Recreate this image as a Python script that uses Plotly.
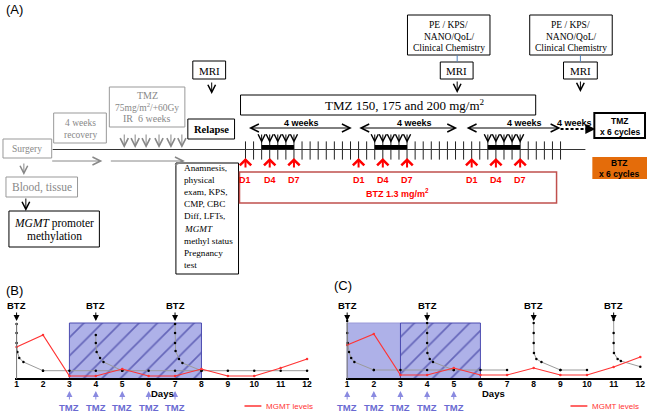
import plotly.graph_objects as go

SERIF = "Liberation Serif"
SANS = "Liberation Sans"

# ---------------- data : panels B and C ----------------
days = [1, 2, 3, 4, 5, 6, 7, 8, 9, 10, 11, 12]
mgmt_b = [32, 44, 3, 3, 10, 3, 3, 10, 3, 3, 11, 20]
mgmt_c = [34, 45, 4, 4, 11, 4, 4, 11, 4, 4, 12, 22]

btz_days_b = [1, 4, 7]
btz_days_c = [1, 4, 8, 11]
tmz_days_b = [3, 4, 5, 6, 7]
tmz_days_c = [1, 2, 3, 4, 5]

base_b_x = [2, 3, 4, 5, 6, 7, 8, 9, 10, 11, 12]
base_b_y = [8.3, 8.3, 8.3, 8.3, 8.3, 8.3, 8.3, 8.3, 8.3, 8.3, 8.3]
base_c_x = [2, 3, 4, 5, 6, 7, None, 9, 10]
base_c_y = [9, 9, 9, 9, 9, 9, None, 9, 9]

spikes_b = [
    ([1, 1, 1, 1.03, 1.1, 1.26, 2], [55, 46, 36, 27, 21, 17, 8.3]),
    ([4, 4, 4.03, 4.16, 4.29, 5], [44, 36, 27, 21, 17, 8.3]),
    ([7, 7, 7, 7.02, 7.15, 7.28, 8], [55, 46, 36, 28, 20, 16, 8.3]),
]
spikes_c = [
    ([1, 1, 1.02, 1.07, 1.15, 1.27, 2], [58, 46, 36, 27, 21, 17, 9]),
    ([4, 4, 4, 4.01, 4.1, 4.22, 5], [56, 46, 36, 26, 20, 17, 9]),
    ([8, 8, 8, 8.01, 8.1, 8.29, 9], [56, 46, 36, 26, 20, 17, 9]),
    ([11, 11, 11, 11.01, 11.15, 11.27, 12], [59, 46, 36, 26, 20, 18, 12.3]),
]
hatch_b = [3, 8]
solid_c = [1, 3]
hatch_c = [3, 6]
rect_top = 56

# ---------------- data : panel A timeline ----------------
timeline_days = list(range(40))
cycle_starts = [0, 14, 28]
btz_offsets = [0, 3, 6]
btz_labels = ["D1", "D4", "D7"]
tmz_offsets = [2, 3, 4, 5, 6]
anamnesis_lines = ["Anamnesis,", "physical", "exam, KPS,", "CMP, CBC", "Diff, LFTs,",
                   "<i>MGMT</i>", "methyl status", "Pregnancy", "test"]

fig = go.Figure()

shapes = []
annos = []


def rect(x0, y0, x1, y1, color="black", width=1, fill="rgba(0,0,0,0)", xref="x", yref="y"):
    shapes.append(dict(type="rect", x0=x0, y0=y0, x1=x1, y1=y1, xref=xref, yref=yref,
                       line=dict(color=color, width=width), fillcolor=fill))


def line(x0, y0, x1, y1, color="black", width=1, dash="solid", xref="x", yref="y"):
    shapes.append(dict(type="line", x0=x0, y0=y0, x1=x1, y1=y1, xref=xref, yref=yref,
                       line=dict(color=color, width=width, dash=dash)))


def arrow(x, y, ax, ay, color="black", width=1, head=5, size=1.5, xref="x", yref="y", side="end"):
    annos.append(dict(x=x, y=y, ax=ax, ay=ay, xref=xref, yref=yref, axref=xref, ayref=yref,
                      showarrow=True, text="", arrowhead=head, arrowsize=size, arrowwidth=width,
                      arrowcolor=color, arrowside=side, startarrowhead=head, startarrowsize=size,
                      standoff=0, startstandoff=0))


def txt(x, y, s, size, color="black", family=SERIF, xanchor="center", xref="x", yref="y"):
    annos.append(dict(x=x, y=y, text=s, xref=xref, yref=yref, showarrow=False,
                      xanchor=xanchor, yanchor="middle", align="left" if xanchor == "left" else "center",
                      font=dict(family=family, size=size, color=color)))


fig.add_trace(go.Scatter(x=[0], y=[0], mode="markers", marker=dict(opacity=0), xaxis="x", yaxis="y",
                         showlegend=False, hoverinfo="skip"))

# ================= PANEL A =================
txt(3, 9, "(A)", 13, family=SANS, xanchor="left")

rect(193, 61, 226, 79)
txt(209.5, 70.5, "MRI", 11)
arrow(212, 94, 212, 81)

rect(109, 87, 185, 127, color="#999")
txt(147, 95.5, "TMZ", 10, color="#888")
txt(147, 107, "75mg/m<sup>2</sup>/+60Gy", 9.5, color="#888")
txt(147, 118.5, "IR  6 weeks", 10, color="#888")

rect(53, 113, 106, 143, color="#999")
txt(79.5, 123, "4 weeks", 9.5, color="#888")
txt(79.5, 135, "recovery", 9.5, color="#888")

rect(188, 119, 235, 139)
txt(211.5, 129, "<b>Relapse</b>", 10.5)

rect(2, 139, 51, 158, color="#999")
txt(26.5, 149, "Surgery", 9.5, color="#888")

arrow(23, 175, 23, 162, color="#888")
rect(5, 177, 77, 197, color="#999")
txt(41, 187, "Blood, tissue", 11.5, color="#888")

arrow(25, 211, 25, 197)
rect(8, 211, 99, 247)
txt(53.5, 223, "<i>MGMT</i> promoter", 11.5)
txt(53.5, 236.5, "methylation", 11.5)

rect(176, 163, 239, 274)
for i, s in enumerate(anamnesis_lines):
    txt(182, 167.5 + i * 12.2, s, 9.2, xanchor="left")

line(52, 149.5, 588, 149.5, color="#333", width=1.2)
for gx in [124, 135, 146, 159, 171, 182]:
    arrow(gx, 148, gx, 133, color="#888", size=1.6)
arrow(102, 161, 50, 161, color="#888", size=1.6)
arrow(185, 161, 109, 161, color="#888", size=1.6)

rect(241, 95, 538, 115)
txt(406, 105, "TMZ 150, 175 and 200 mg/m<sup>2</sup>", 13)

for cx, l, r, ml, mr in [(450.5, 409, 492, 442, 475), (573.5, 532, 615, 566, 600)]:
    rect(l, 15, r, 55)
    txt(cx, 25, "PE / KPS/", 9.5)
    txt(cx, 36.5, "NANO/QoL/", 9.5)
    txt(cx, 48, "Clinical Chemistry", 9.5)
    rect(ml, 62, mr, 79)
    txt((ml + mr) / 2, 70.5, "MRI", 11)
line(459, 55, 459, 62, color="#4f81bd")
line(583, 55, 583, 62, color="#4f81bd")
arrow(459, 93, 459, 80)
arrow(583, 92, 583, 80)

for a, b, lx in [(248, 353, 302), (359, 459, 416), (467, 563, 527)]:
    arrow(b, 128, a, 128, side="end+start", size=1.6)
    txt(lx, 122.5, "<b>4 weeks</b>", 9, family=SANS)
txt(577, 122.5, "<b>4 weeks</b>", 9, family=SANS)
line(563, 129, 591, 129, width=2, dash="3px,2px")
arrow(598, 129, 590, 129, width=2, head=2, size=1)

rect(597, 113, 648, 138, width=2)
txt(622.5, 120.5, "<b>TMZ</b>", 8.5, family=SANS)
txt(622.5, 131.5, "<b>x 6 cycles</b>", 8.5, family=SANS)

rect(595, 157, 650, 179, color="#e46c0a", width=0, fill="#e46c0a")
txt(622, 163, "<b>BTZ</b>", 8.5, family=SANS)
txt(622, 174, "<b>x 6 cycles</b>", 8.5, family=SANS)

rect(240, 172, 559, 203, color="#c0504d", width=1.5)
txt(399, 193, "<b>BTZ 1.3 mg/m<sup>2</sup></b>", 9, color="#ff0000", family=SANS)

fig.add_trace(go.Scatter(x=timeline_days, y=[150.5] * len(timeline_days), mode="markers",
                         xaxis="x3", yaxis="y", cliponaxis=False, showlegend=False, hoverinfo="skip",
                         marker=dict(symbol="line-ns", size=13, color="#222",
                                     line=dict(width=1, color="#222"))))
for cs in cycle_starts:
    rect(cs + tmz_offsets[0], 145, cs + tmz_offsets[-1], 149.5, color="black", width=0,
         fill="black", xref="x3")
    for o in tmz_offsets:
        arrow(cs + o, 143, cs + o, 133, size=1.4, xref="x3")
    for o, lab in zip(btz_offsets, btz_labels):
        arrow(cs + o, 158, cs + o, 169, color="#ff0000", width=2, head=4, size=1.1, xref="x3")
        txt(cs + o, 180, "<b>%s</b>" % lab, 9, color="#ff0000", family=SANS, xref="x3")

# ================= PANELS B and C =================
txt(3, 290, "(B)", 13, family=SANS, xanchor="left")
txt(333, 285, "(C)", 13, family=SANS, xanchor="left")

FILL = "#aeb1e8"
HATCH = "#1c1c8c"
EDGE = "#4b4bb0"


def hatched(span, xa, ya):
    fig.add_trace(go.Bar(x=[(span[0] + span[1]) / 2], y=[rect_top], width=[span[1] - span[0]],
                         xaxis=xa, yaxis=ya, showlegend=False, hoverinfo="skip",
                         marker=dict(color=FILL, line=dict(color=EDGE, width=1),
                                     pattern=dict(shape="/", fgcolor=HATCH, size=13, solidity=0.13,
                                                  fillmode="overlay"))))


def solid(span, xa, ya):
    fig.add_trace(go.Bar(x=[(span[0] + span[1]) / 2], y=[rect_top], width=[span[1] - span[0]],
                         xaxis=xa, yaxis=ya, showlegend=False, hoverinfo="skip",
                         marker=dict(color=FILL, line=dict(color="#9a9ad8", width=1))))


hatched(hatch_b, "x2", "y2")
solid(solid_c, "x4", "y4")
hatched(hatch_c, "x4", "y4")

GRAY = dict(color="#9a9a9a", width=1)
DOT = dict(size=2.5, color="black")


def gray_line(xs, ys, xa, ya):
    fig.add_trace(go.Scatter(x=xs, y=ys, mode="lines+markers", line=GRAY, marker=DOT,
                             xaxis=xa, yaxis=ya, showlegend=False, hoverinfo="skip",
                             cliponaxis=False, connectgaps=False))


gray_line(base_b_x, base_b_y, "x2", "y2")
for sx, sy in spikes_b:
    gray_line(sx, sy, "x2", "y2")
gray_line(base_c_x, base_c_y, "x4", "y4")
for sx, sy in spikes_c:
    gray_line(sx, sy, "x4", "y4")

for mg, xa, ya in [(mgmt_b, "x2", "y2"), (mgmt_c, "x4", "y4")]:
    fig.add_trace(go.Scatter(x=days, y=mg, mode="lines+markers", xaxis=xa, yaxis=ya,
                             line=dict(color="#ff3333", width=1.2),
                             marker=dict(size=2.5, color="#ff3333"),
                             showlegend=False, hoverinfo="skip", cliponaxis=False))

line(1, 0, 1, rect_top, color="#777", xref="x2", yref="y2")
line(1, 0, 1, rect_top, color="#777", xref="x4", yref="y4")

TMZC = "#6a6ad2"
for btzd, tmzd, xa, ya in [(btz_days_b, tmz_days_b, "x2", "y2"), (btz_days_c, tmz_days_c, "x4", "y4")]:
    for d in btzd:
        txt(d, 74, "<b>BTZ</b>", 9.5, family=SANS, xref=xa, yref=ya)
        arrow(d, 58, d, 68, size=1.2, head=2, xref=xa, yref=ya)
    for d in tmzd:
        arrow(d, -12, d, -22, color="#8a8ae0", size=1.2, head=2, xref=xa, yref=ya)
        txt(d, -28.5, "<b>TMZ</b>", 9.5, color=TMZC, family=SANS, xref=xa, yref=ya)

txt(162, 393.5, "<b>Days</b>", 9.5, family=SANS)
txt(496, 393.5, "<b>Days</b>", 9.5, family=SANS)
line(245, 406, 262, 406, color="#ff3333", width=1.5)
txt(265, 406, "MGMT levels", 8, color="#ff3333", family=SANS, xanchor="left")
line(573, 406, 590, 406, color="#ff3333", width=1.5)
txt(593, 406, "MGMT levels", 8, color="#ff3333", family=SANS, xanchor="left")

# ---------------- axes ----------------
W, H = 650, 412
AXIS_Y = 379
ydom = [0, (H - 300) / H]
yrange = [-(H - AXIS_Y), AXIS_Y - 300]
hidden = dict(visible=False, showgrid=False, zeroline=False, fixedrange=True)


def day_axis(dom):
    return dict(domain=dom, range=[0.94, 12.08], anchor="free", position=(H - AXIS_Y) / H,
                tickmode="array", tickvals=days,
                ticktext=["<b>%d</b>" % d for d in days], showline=True, linecolor="black",
                linewidth=2, ticks="", showgrid=False, zeroline=False, ticklabelstandoff=-3,
                tickfont=dict(family=SANS, size=8.5, color="black"), fixedrange=True)


fig.update_layout(
    width=W, height=H, margin=dict(l=0, r=0, t=0, b=0, pad=0),
    paper_bgcolor="white", plot_bgcolor="rgba(0,0,0,0)",
    barmode="overlay", showlegend=False,
    xaxis=dict(domain=[0, 1], range=[0, W], anchor="y", **hidden),
    yaxis=dict(domain=[0, 1], range=[H, 0], anchor="x", **hidden),
    xaxis3=dict(domain=[246 / W, 563 / W], range=[0, 39], anchor="y", **hidden),
    xaxis2=day_axis([14.1 / W, 310.1 / W]),
    yaxis2=dict(domain=ydom, range=yrange, anchor="x2", **hidden),
    xaxis4=day_axis([346.7 / W, 645.4 / W]),
    yaxis4=dict(domain=ydom, range=yrange, anchor="x4", **hidden),
    shapes=shapes, annotations=annos,
)

fig.write_html("out.html", config={"displayModeBar": False},
               post_script="document.body.style.margin='0px';document.body.style.overflow='hidden';")
